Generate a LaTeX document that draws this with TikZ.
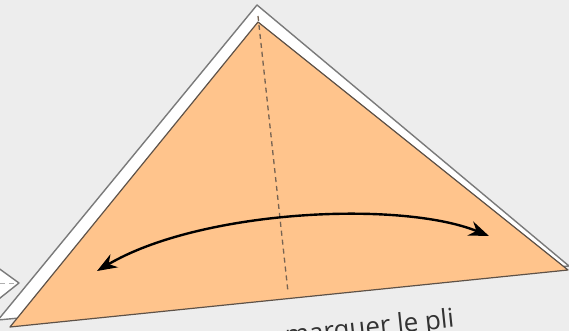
\documentclass[tikz,border=0pt]{standalone}
\usepackage{fontspec}
\setmainfont{Open Sans}
\usetikzlibrary{arrows.meta}
\definecolor{bg}{HTML}{EDEDED}
\definecolor{paper}{HTML}{FFC48C}
\definecolor{edgedark}{HTML}{5E5248}
\definecolor{edgegray}{HTML}{7A7A7A}
\tikzset{
  sheet/.style={fill=white, draw=edgegray, line width=1.4pt, line join=round},
  flap/.style={fill=paper, draw=edgedark, line width=1.2pt, line join=round},
  foldline/.style={draw=edgedark!85!paper, dashed, dash pattern=on 5pt off 4pt, line width=1.3pt},
  movearrow/.style={draw=black, line width=2.4pt, {Stealth[length=20pt,width=15pt]}-{Stealth[length=20pt,width=15pt]}},
  caption/.style={font=\fontsize{26}{28}\selectfont, text=black!80, inner sep=0pt}
}
\begin{document}
\begin{tikzpicture}[x=1pt, y=-1pt]
\useasboundingbox (0,0) rectangle (569,331);
\clip (0,0) rectangle (569,331);
\fill[bg] (0,0) rectangle (569,331);
% small white shape at the left border
\draw[sheet] (-10,262) -- (19,283) -- (-10,306) -- cycle;
\draw[edgegray!60, dashed, dash pattern=on 5pt off 4pt, line width=1pt] (0,283) -- (14,283);
% paper layers
\coordinate (wA) at (257,5);
\coordinate (wL) at (-2,320);
\coordinate (wR) at (569,266);
\draw[sheet] (wA) -- (wL) -- (wR) -- cycle;
\coordinate (oA) at (258,22);
\coordinate (oL) at (10,327);
\coordinate (oR) at (568,270);
\draw[flap] (oA) -- (oL) -- (oR) -- cycle;
% fold line
\coordinate (fB) at (288,292);
\draw[foldline] ([yshift=6pt]oA) -- (fB);
% double arrow
\coordinate (aL) at (97,271);
\coordinate (aR) at (489,236);
\draw[movearrow] (aL) .. controls (200,210) and (400,200) .. (aR);
% caption
\node[caption, anchor=base east, rotate=6] (cap) at (455,327) {pour marquer le pli};
\end{tikzpicture}
\end{document}
